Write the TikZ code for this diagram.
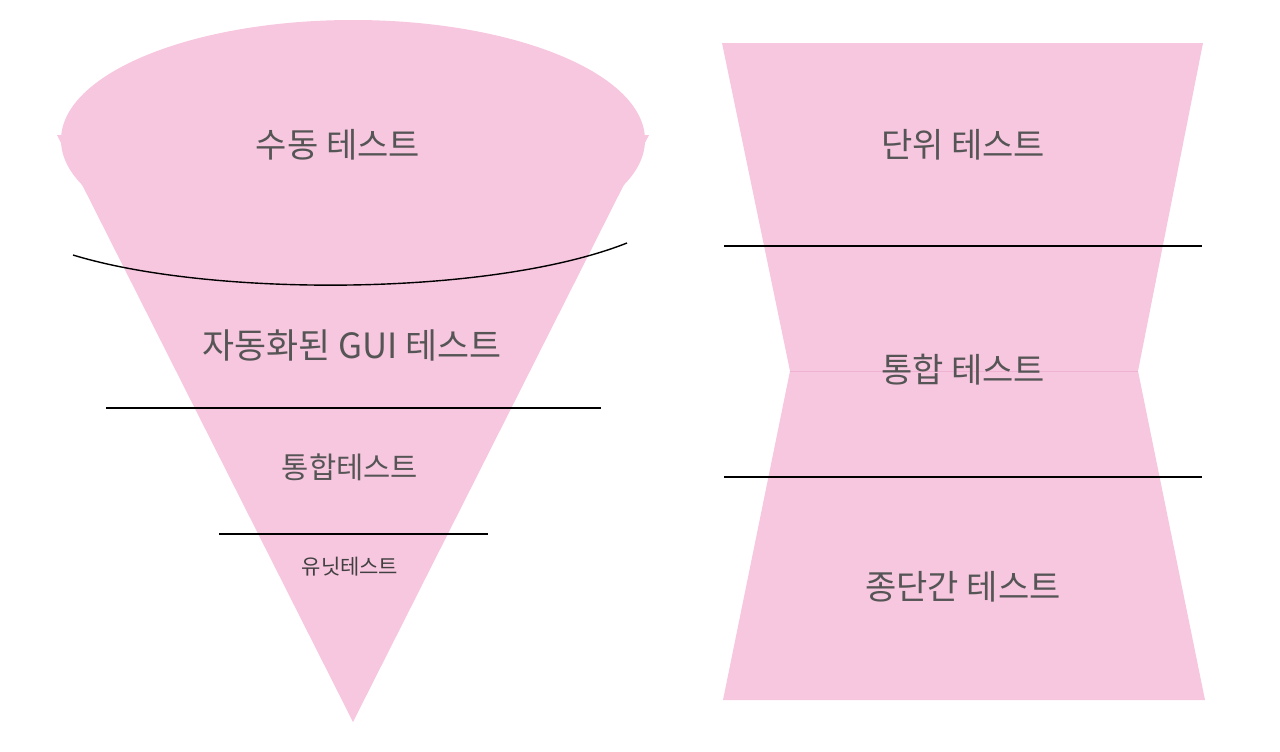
\documentclass[tikz,border=0pt]{standalone}
\usepackage{fontspec}
\newfontfamily\kofont{Noto Sans CJK KR}
\definecolor{conepink}{RGB}{247,198,223}
\definecolor{seampink}{RGB}{240,178,210}
\definecolor{textgray}{RGB}{85,85,85}
\tikzset{
  layertext/.style={text=textgray, font=\kofont\fontsize{17}{20}\selectfont},
  divider/.style={black, line width=0.7pt}
}

\begin{document}
\begin{tikzpicture}[x=0.5pt, y=-0.5pt]
\useasboundingbox (0,0) rectangle (1280,751);
% ice cream cone
\fill[conepink] (353,140) ellipse [x radius=292, y radius=120];
\fill[conepink] (57,135) -- (649,135) -- (353,722) -- cycle;
\coordinate (m1) at (73,255);
\coordinate (m2) at (627,243);
\coordinate (g1) at (106,408);
\coordinate (g2) at (601,408);
\coordinate (t1) at (219,534);
\coordinate (t2) at (488,534);
\draw[divider] (m1) .. controls (210,297) and (490,297) .. (m2);
\draw[divider] (g1) -- (g2);
\draw[divider] (t1) -- (t2);
\node[layertext] (manual) at (338,145) {수동 테스트};
\node[layertext, font=\kofont\fontsize{17.4}{20}\selectfont] (gui) at (352,345) {자동화된 GUI 테스트};
\node[layertext, font=\kofont\fontsize{14.8}{17}\selectfont] (integ) at (350,467) {통합테스트};
\node[layertext, font=\kofont\fontsize{10.5}{12}\selectfont, text=black!75] (unit) at (350,567) {유닛테스트};

% hourglass
\fill[conepink] (722,43) -- (1203,43) -- (1138,371) -- (790,371) -- cycle;
\fill[conepink] (790,371) -- (1138,371) -- (1205,700) -- (723,700) -- cycle;
\draw[seampink, line width=0.5pt] (790,371) -- (1138,371);
\coordinate (h1) at (724,246);
\coordinate (h2) at (1202,246);
\coordinate (h3) at (724,477);
\coordinate (h4) at (1202,477);
\draw[divider] (h1) -- (h2);
\draw[divider] (h3) -- (h4);
\node[layertext] (unitR) at (963,145) {단위 테스트};
\node[layertext] (integR) at (963,370) {통합 테스트};
\node[layertext] (e2e) at (963,587) {종단간 테스트};
\end{tikzpicture}
\end{document}
